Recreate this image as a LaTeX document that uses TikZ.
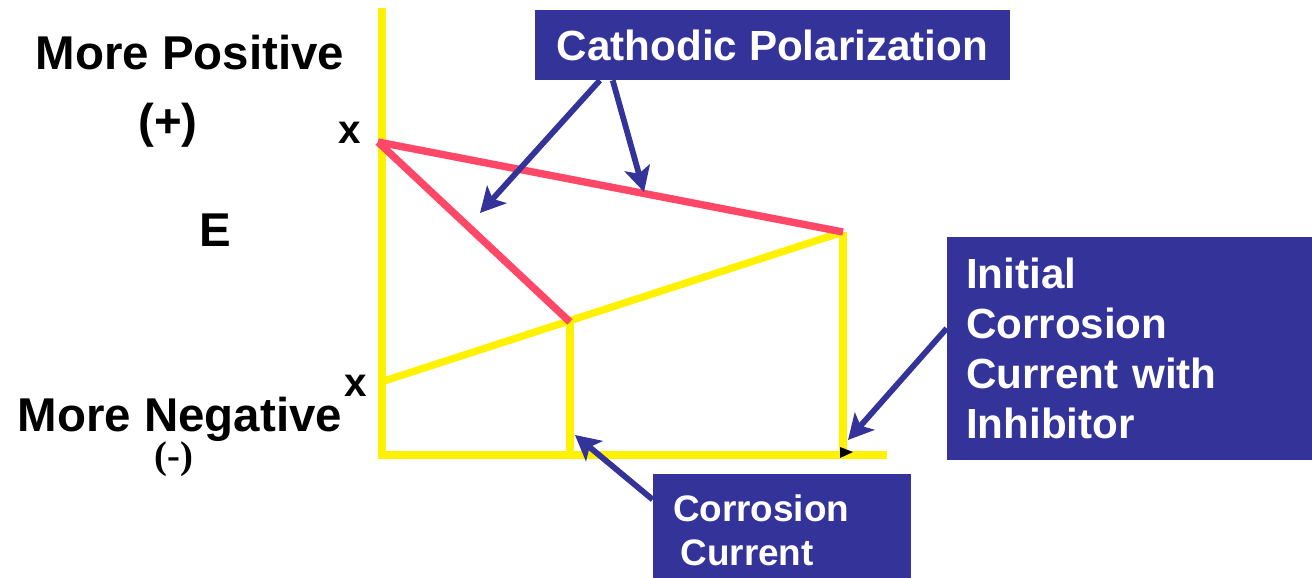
\documentclass[tikz,border=0pt]{standalone}
\usepackage{fontspec}
\setmainfont{Liberation Sans}
\newfontfamily\serifbold{Liberation Serif}
\usetikzlibrary{arrows.meta,positioning,calc}
\definecolor{boxblue}{RGB}{51,51,153}
\definecolor{polred}{RGB}{255,71,104}

\begin{document}
\begin{tikzpicture}[x=0.02cm,y=-0.02cm,
  lbl/.style={font=\fontsize{27}{32}\selectfont\bfseries,inner sep=0pt},
  box/.style={fill=boxblue,text=white,inner sep=0pt,align=center,font=\fontsize{24}{28.3}\selectfont\bfseries},
  axis/.style={draw=yellow,line width=4.2pt},
  pol/.style={draw=polred,line width=4.2pt},
  ar/.style={-{Stealth[length=5mm,width=5.2mm,inset=1.2mm]},draw=boxblue,fill=boxblue,line width=3.3pt}]
\useasboundingbox (0,0) rectangle (1312,578);
% axes and curves
\coordinate (ytop) at (382,8);
\coordinate (o) at (382,455);
\coordinate (xend) at (887,455);
\coordinate (epos) at (378,142);
\coordinate (eneg) at (381,382);
\coordinate (cross) at (570,322);
\coordinate (inh) at (843,232);
\coordinate (icorr) at (570,455);
\coordinate (icorrinh) at (843,455);
\draw[axis] (ytop) -- (o) -- (xend);
\draw[axis] (eneg) -- (inh);
\draw[axis] (cross) -- (icorr);
\draw[axis] (inh) -- (icorrinh);
\draw[pol] (epos) -- (inh);
\draw[pol] (epos) -- (cross);
\fill (840,447) -- (853,452) -- (840,458) -- cycle;
% labels
\node[lbl,anchor=base] (pos) at (190,69) {More Positive};
\node[lbl] (plus) at (168,125) {(+)};
\node[lbl,font=\fontsize{23}{28}\selectfont\bfseries] (xpos) at (350,133) {x};
\node[lbl] (ee) at (215,230) {E};
\node[lbl,anchor=base] (neg) at (180,431) {More Negative};
\node[lbl,font=\fontsize{23}{28}\selectfont\bfseries] (xneg) at (356,386) {x};
\node[lbl,font=\fontsize{22}{26}\serifbold\bfseries] (minus) at (174,459) {(-)};
% callouts
\node[box,minimum width=9.5cm,minimum height=1.4cm] (cp) at (772.5,45) {Cathodic Polarization};
\node[box,align=left,text width=6.54cm,inner xsep=0.38cm,minimum height=4.46cm] (ic) at (1129.5,348.5) {Initial\\Corrosion\\Current with\\Inhibitor};
\node[box,align=left,text width=4.36cm,inner xsep=0.4cm,minimum height=2.24cm,font=\fontsize{21}{25}\selectfont\bfseries] (cc) at (782,530) {Corrosion\\\hspace{0.15cm}Current};
\coordinate (tipa) at (480,213);
\coordinate (tipb) at (644,192);
\coordinate (tipc) at (848,440);
\coordinate (tipd) at (575,435);
\draw[ar] ($(cp.south west)!0.137!(cp.south east)$) -- (tipa);
\draw[ar] ($(cp.south west)!0.164!(cp.south east)$) -- (tipb);
\draw[ar] ($(ic.north west)!0.41!(ic.south west)$) -- (tipc);
\draw[ar] ($(cc.north west)!0.23!(cc.south west)$) -- (tipd);
\end{tikzpicture}
\end{document}
